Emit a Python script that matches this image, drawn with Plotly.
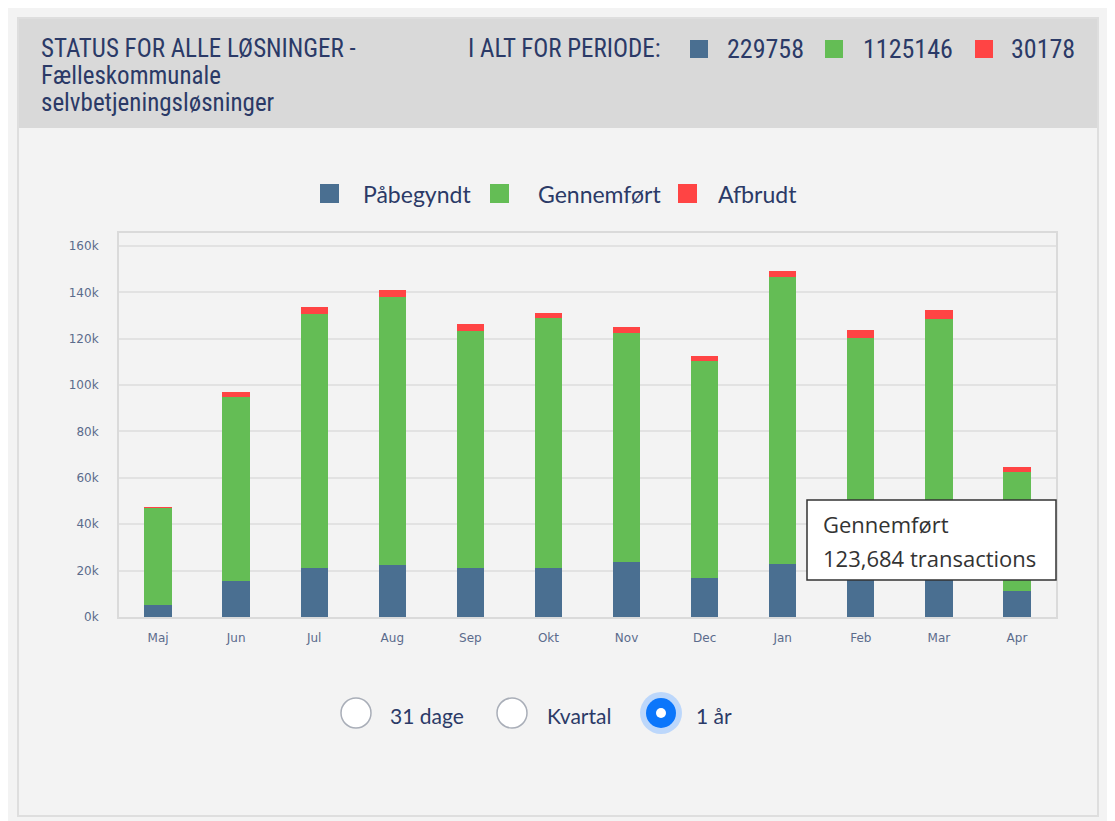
import plotly.graph_objects as go

months = ["Maj", "Jun", "Jul", "Aug", "Sep", "Okt", "Nov", "Dec", "Jan", "Feb", "Mar", "Apr"]
paabegyndt = [5200, 15500, 21300, 22400, 21300, 21300, 23600, 17000, 22900, 23500, 24500, 11200]
gennemfoert = [42000, 79500, 109200, 115800, 102200, 107500, 99000, 93600, 123684, 96800, 103800, 51400]
afbrudt = [200, 2200, 3200, 3000, 3000, 2400, 2400, 1800, 2800, 3400, 4300, 1900]
series_names = ["Påbegyndt", "Gennemført", "Afbrudt"]
series_colors = ["#4a6f91", "#64bd55", "#ff4444"]
period_totals = ["229758", "1125146", "30178"]
y_ticks = [0, 20000, 40000, 60000, 80000, 100000, 120000, 140000, 160000]
y_ticklabels = ["0k", "20k", "40k", "60k", "80k", "100k", "120k", "140k", "160k"]
radio_labels = ["31 dage", "Kvartal", "1 år"]

W, H = 1115, 821
OX, OY = 8, 8  # page body offset
L, R, T, B = 119 - OX, 1056 - OX, 233 - OY, 617 - OY


def px(x):
    return (x - OX - L) / (R - L)


def py(y):
    return (B - (y - OY)) / (B - T)


TXT = "#2b3a67"
fig = go.Figure()
for name, vals, col in zip(series_names, [paabegyndt, gennemfoert, afbrudt], series_colors):
    fig.add_trace(go.Bar(
        x=months, y=vals, name=name, marker=dict(color=col, line=dict(width=0)),
        hovertemplate="%{fullData.name}<br>%{y:,} transactions<extra></extra>",
        showlegend=False,
    ))

shapes = []
annotations = []
shapes.append(dict(type="rect", xref="paper", yref="paper", x0=px(18), x1=px(1098), y0=py(18), y1=py(816),
                   fillcolor="#f3f3f3", line=dict(color="#dedede", width=2), layer="below"))
shapes.append(dict(type="rect", xref="paper", yref="paper", x0=px(19), x1=px(1097), y0=py(19), y1=py(128),
                   fillcolor="#d9d9d9", line=dict(width=0), layer="below"))

HFONT = "Liberation Sans Narrow, Roboto Condensed, Arial Narrow, sans-serif"
for line, yy in zip(["STATUS FOR ALLE LØSNINGER -", "Fælleskommunale", "selvbetjeningsløsninger"], [48, 76, 103]):
    annotations.append(dict(xref="paper", yref="paper", x=px(39), y=py(yy), xanchor="left", yanchor="middle",
                            showarrow=False, text=line, font=dict(family=HFONT, size=25, color=TXT)))
annotations.append(dict(xref="paper", yref="paper", x=px(466), y=py(49), xanchor="left", yanchor="middle",
                        showarrow=False, text="I ALT FOR PERIODE:",
                        font=dict(family=HFONT, size=25, color=TXT)))
sq_x = [690, 825, 975]
num_x = [725, 861, 1009]
for sx, nx, col, tot in zip(sq_x, num_x, series_colors, period_totals):
    shapes.append(dict(type="rect", xref="paper", yref="paper", x0=px(sx), x1=px(sx + 18), y0=py(40), y1=py(58),
                       fillcolor=col, line=dict(width=0)))
    annotations.append(dict(xref="paper", yref="paper", x=px(nx), y=py(49), xanchor="left", yanchor="middle",
                            showarrow=False, text=tot, font=dict(family=HFONT, size=26, color=TXT)))

# legend (drawn)
leg_sq = [320, 490, 678]
leg_tx = [361, 536, 716]
for sx, tx, col, nm in zip(leg_sq, leg_tx, series_colors, series_names):
    shapes.append(dict(type="rect", xref="paper", yref="paper", x0=px(sx), x1=px(sx + 19), y0=py(184), y1=py(203),
                       fillcolor=col, line=dict(width=0)))
    annotations.append(dict(xref="paper", yref="paper", x=px(tx), y=py(194), xanchor="left", yanchor="middle",
                            showarrow=False, text=nm, font=dict(family="Lato", size=23, color=TXT)))

# tooltip
shapes.append(dict(type="rect", xref="paper", yref="paper", x0=px(807), x1=px(1056), y0=py(500), y1=py(580),
                   fillcolor="white", line=dict(color="#333333", width=1.5)))
annotations.append(dict(xref="paper", yref="paper", x=px(821), y=py(524), xanchor="left", yanchor="middle",
                        showarrow=False, text="Gennemført", font=dict(family="Open Sans", size=22, color="#333333")))
annotations.append(dict(xref="paper", yref="paper", x=px(821), y=py(558), xanchor="left", yanchor="middle",
                        showarrow=False, text="123,684 transactions",
                        font=dict(family="Open Sans", size=22, color="#333333")))

# radio buttons
radio_cx = [356, 512, 661]
label_x = [388, 545, 694]
RY = 713
for i, (cx, lx, lab) in enumerate(zip(radio_cx, label_x, radio_labels)):
    if i == 2:
        shapes.append(dict(type="circle", xref="paper", yref="paper", x0=px(cx - 21), x1=px(cx + 21),
                           y0=py(RY - 21), y1=py(RY + 21), fillcolor="#bcd7fb", line=dict(width=0)))
        shapes.append(dict(type="circle", xref="paper", yref="paper", x0=px(cx - 15), x1=px(cx + 15),
                           y0=py(RY - 15), y1=py(RY + 15), fillcolor="#0b76fb", line=dict(width=0)))
        shapes.append(dict(type="circle", xref="paper", yref="paper", x0=px(cx - 5), x1=px(cx + 5),
                           y0=py(RY - 5), y1=py(RY + 5), fillcolor="white", line=dict(width=0)))
    else:
        shapes.append(dict(type="circle", xref="paper", yref="paper", x0=px(cx - 15), x1=px(cx + 15),
                           y0=py(RY - 15), y1=py(RY + 15), fillcolor="white",
                           line=dict(color="#a9aeb8", width=1.5)))
    annotations.append(dict(xref="paper", yref="paper", x=px(lx), y=py(RY + 2), xanchor="left", yanchor="middle",
                            showarrow=False, text="<b>" + lab + "</b>" if False else lab,
                            font=dict(family="Lato", size=21, color=TXT)))

fig.update_layout(
    width=W, height=H,
    margin=dict(l=L, r=W - R, t=T, b=H - B, pad=0),
    barmode="stack", bargap=0.65,
    paper_bgcolor="#f3f3f3", plot_bgcolor="#f3f3f3",
    font=dict(family="Lato", color=TXT),
    showlegend=False,
    xaxis=dict(showline=True, mirror=True, linecolor="#dadada", linewidth=2, showgrid=False,
               ticks="", ticklabelstandoff=9,
               tickfont=dict(family="DejaVu Sans", size=12, color="#5b6b8c"), fixedrange=True),
    yaxis=dict(range=[0, 165600], tickvals=y_ticks, ticktext=y_ticklabels, showline=True, mirror=True,
               linecolor="#dadada", linewidth=2, gridcolor="#e2e2e2", gridwidth=1.5, zeroline=False,
               ticks="outside", ticklen=16, tickcolor="rgba(0,0,0,0)",
               tickfont=dict(family="DejaVu Sans", size=12, color="#5b6b8c"), fixedrange=True),
    shapes=shapes, annotations=annotations,
)

fig.write_html("out.html")
